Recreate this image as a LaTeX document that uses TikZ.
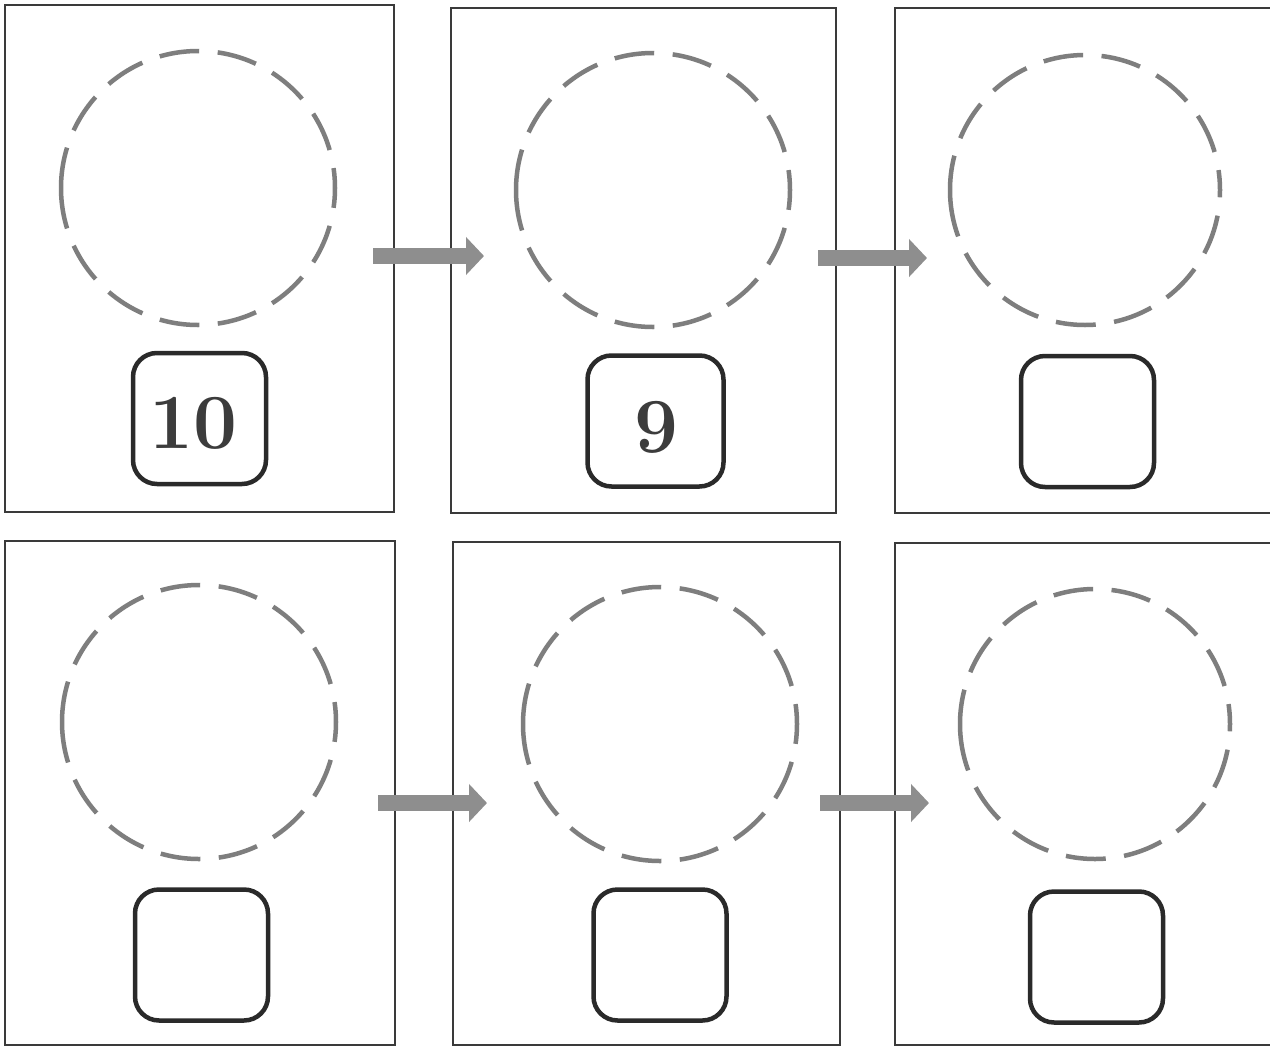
\documentclass[tikz,border=0pt]{standalone}
\usetikzlibrary{arrows.meta}
\definecolor{panelline}{HTML}{3A3A3A}
\definecolor{dashgray}{HTML}{7E7E7E}
\definecolor{boxline}{HTML}{2A2A2A}
\definecolor{arrowgray}{HTML}{8E8E8E}
\definecolor{digit}{HTML}{3C3C3C}
\tikzset{
  panel/.style={draw=panelline, line width=1.6pt, rectangle, inner sep=0pt, outer sep=0pt},
  dashcircle/.style={circle, draw=dashgray, line width=4.5pt, inner sep=0pt, outer sep=0pt,
    minimum size=274pt,
    dash pattern=on 82pt off 18.5pt on 40pt off 18.5pt on 40pt off 18.5pt on 40pt off 18.5pt
      on 40pt off 18.5pt on 40pt off 18.5pt on 40pt off 18.5pt on 40pt off 18.5pt
      on 40pt off 18.5pt on 40pt off 18.5pt on 40pt off 18.5pt on 40pt off 18.5pt
      on 40pt off 18.5pt on 40pt off 18.5pt,
    dash phase=471.5pt},
  numbox/.style={draw=boxline, line width=4.5pt, rounded corners=24pt, rectangle,
    minimum width=133pt, minimum height=131pt, inner sep=0pt,
    font=\fontsize{78}{78}\selectfont\bfseries, text=digit},
  bigarrow/.style={draw=arrowgray, line width=16pt, line cap=butt,
    -{Triangle[length=18pt,width=37pt]}}
}
\begin{document}
\begin{tikzpicture}[x=1pt,y=-1pt]
\useasboundingbox (0,0) rectangle (1270,1047);
\fill[white] (0,0) rectangle (1270,1047);
% panels
\node[panel, minimum width=389pt, minimum height=507pt] (p1) at (199.5,258.5) {};
\node[panel, minimum width=385pt, minimum height=505pt] (p2) at (643.5,260.5) {};
\node[panel, minimum width=382pt, minimum height=505pt] (p3) at (1086,260.5) {};
\node[panel, minimum width=390pt, minimum height=504pt] (p4) at (200,793) {};
\node[panel, minimum width=387pt, minimum height=503pt] (p5) at (646.5,793.5) {};
\node[panel, minimum width=382pt, minimum height=502pt] (p6) at (1086,794) {};
% circles
\node[dashcircle] (c1) at (198,188) {};
\node[dashcircle] (c2) at (653,190) {};
\node[dashcircle, minimum size=270pt] (c3) at (1085,190) {};
\node[dashcircle] (c4) at (199,722) {};
\node[dashcircle] (c5) at (660,724) {};
\node[dashcircle, minimum size=270pt] (c6) at (1095,724) {};
% number boxes
\node[numbox] (b1) at (199.5,418.5) {\raisebox{-4.5pt}[\height][\depth]{10\kern12pt}};
\node[numbox, minimum width=136pt] (b2) at (655.5,421) {\raisebox{-6.5pt}[\height][\depth]{\kern2pt 9}};
\node[numbox] (b3) at (1087.5,421.5) {};
\node[numbox] (b4) at (201.5,955) {};
\node[numbox] (b5) at (660,955) {};
\node[numbox] (b6) at (1096.5,957) {};
% arrows
\coordinate (a1s) at (373,256);
\coordinate (a1e) at (484,256);
\coordinate (a2s) at (818,258);
\coordinate (a2e) at (927,258);
\coordinate (a3s) at (378,803);
\coordinate (a3e) at (487,803);
\coordinate (a4s) at (820,803);
\coordinate (a4e) at (929,803);
\draw[bigarrow] (a1s) -- (a1e);
\draw[bigarrow] (a2s) -- (a2e);
\draw[bigarrow] (a3s) -- (a3e);
\draw[bigarrow] (a4s) -- (a4e);
\end{tikzpicture}
\end{document}
